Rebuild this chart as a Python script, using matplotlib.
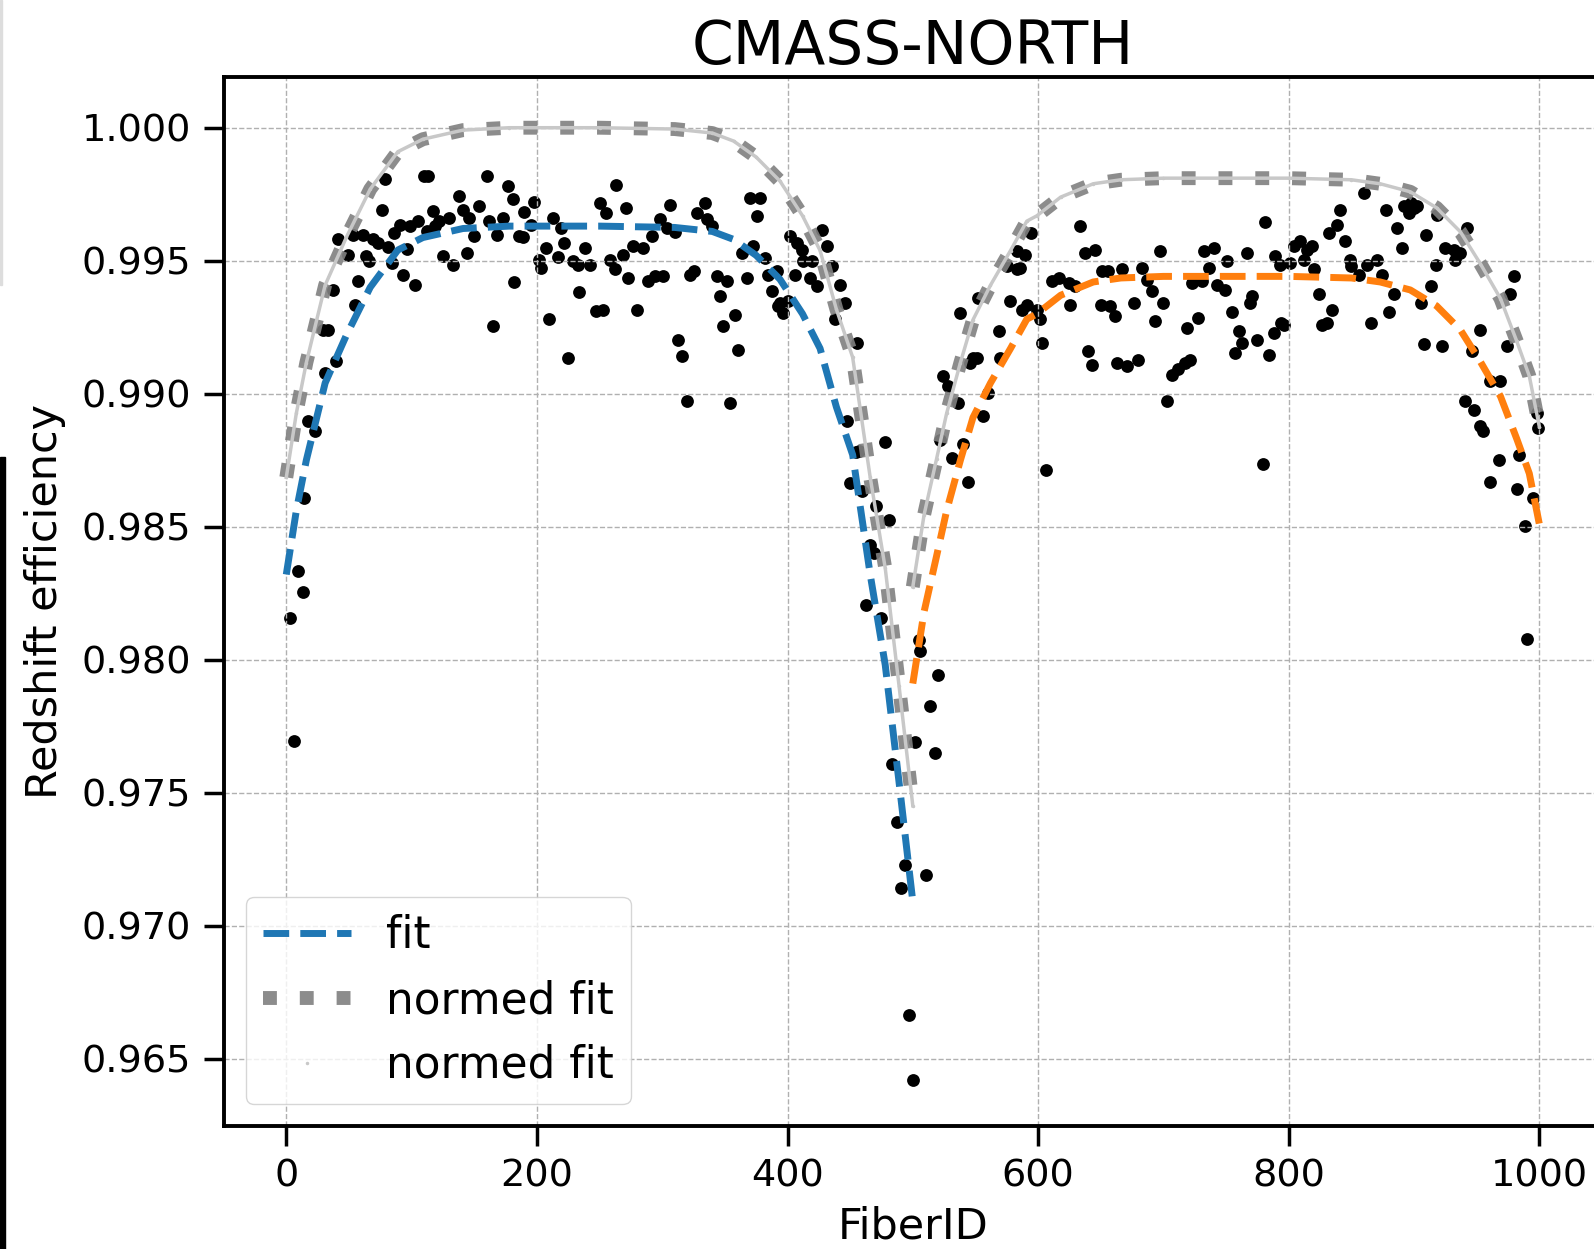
import numpy as np
import matplotlib
matplotlib.use("Agg")
import matplotlib.pyplot as plt
from matplotlib.patches import Rectangle
from matplotlib.ticker import FormatStrFormatter

# binned redshift efficiency per fiber
fiber_id = [
    3.3, 6.5, 9.7, 13, 14.2, 17, 22.6, 29, 31, 33, 37, 40, 41, 49, 53, 54.5, 57, 61, 64, 66,
    69, 73, 76, 78.5, 81, 84, 86, 91, 93, 96, 99, 102.5, 105, 110, 112, 113, 117, 119, 122, 125,
    130, 133, 138, 141, 144, 146, 150, 154, 160, 162, 165, 168, 173, 177, 181, 182, 186, 189, 190, 195.5,
    198, 202, 203.5, 207.6, 210, 212.8, 216.7, 219.6, 222, 225, 229, 233, 234, 238, 242.5, 247.5, 250, 253, 255.5, 258,
    262, 263.5, 269, 271.5, 273, 277, 279.5, 285, 288.8, 291.5, 294, 298, 300.8, 303.5, 306.6, 310, 312.8, 315.5, 319.5, 322,
    325, 327.5, 334, 335.5, 339.5, 343.5, 346, 348.7, 351.5, 354, 358, 360.7, 363.4, 367.4, 370, 372.6, 375.4, 378, 382, 384.7,
    387.4, 391.3, 392.7, 394, 396.7, 400.4, 402, 406, 407.5, 411.5, 412.6, 418, 419.3, 423.2, 427.3, 431.3, 435.3, 438, 442, 446,
    447.6, 450, 455, 455.6, 457, 459.5, 462.7, 465.7, 469, 470.4, 474.4, 478, 481, 483.5, 487.5, 490.5, 493.5, 496.6, 499.8, 502,
    505, 506, 510.5, 513.5, 518, 520, 521.8, 524.4, 528.4, 531, 536.4, 537.7, 540.4, 544, 545.8, 548.4, 551, 552.4, 556.4, 560.4,
    568.4, 569.7, 575, 577.7, 583, 583.5, 585.7, 587, 589.7, 591, 594, 599, 601.7, 603, 606, 611, 616.3, 624.3, 625.6, 629.7,
    633.6, 637.6, 640, 642.7, 645.6, 649.8, 651, 656, 657.7, 661.7, 663, 667, 671, 676.2, 680, 683, 687, 691, 693.6, 697.6,
    700, 703, 707, 712, 717.5, 718.7, 721.5, 722.8, 728, 730.8, 732, 736, 740, 742.7, 749.4, 750.6, 754.6, 757, 760, 762.5,
    766.7, 769.4, 770.7, 774.7, 779.5, 781.4, 784, 788, 789.4, 793.4, 794, 796, 801.3, 804, 809, 812, 814.7, 818.6, 820, 824,
    826.6, 830.6, 832, 834.7, 838.6, 841.3, 845.3, 849.3, 850, 856, 860, 862.6, 865.4, 870.6, 874.6, 877.4, 880, 884, 886.7, 890.7,
    892, 896, 897.3, 900, 902.7, 905.3, 908, 909.3, 913.3, 917.3, 918.6, 922.6, 925, 931.7, 933, 937, 941, 942.4, 946.4, 947.7,
    952.7, 953, 955.4, 960.7, 961, 968, 968.7, 974.4, 977, 979.7, 982, 984, 988.6, 990.5, 995, 998.4, 999,
]
efficiency = [
    0.98155, 0.97693, 0.98334, 0.98255, 0.98606, 0.98896, 0.98859, 0.99241, 0.99079, 0.99241, 0.99391, 0.99122, 0.99583, 0.99520, 0.99598, 0.99335, 0.99423, 0.99598, 0.99517, 0.99498,
    0.99580, 0.99568, 0.99690, 0.99807, 0.99550, 0.99493, 0.99606, 0.99636, 0.99448, 0.99545, 0.99629, 0.99410, 0.99648, 0.99817, 0.99611, 0.99817, 0.99686, 0.99629, 0.99648, 0.99517,
    0.99662, 0.99485, 0.99745, 0.99692, 0.99530, 0.99661, 0.99592, 0.99705, 0.99817, 0.99648, 0.99253, 0.99598, 0.99661, 0.99780, 0.99733, 0.99418, 0.99592, 0.99590, 0.99683, 0.99636,
    0.99720, 0.99504, 0.99474, 0.99549, 0.99281, 0.99662, 0.99515, 0.99624, 0.99568, 0.99135, 0.99498, 0.99482, 0.99381, 0.99548, 0.99485, 0.99310, 0.99717, 0.99316, 0.99680, 0.99504,
    0.99467, 0.99786, 0.99523, 0.99698, 0.99435, 0.99554, 0.99316, 0.99548, 0.99423, 0.99592, 0.99444, 0.99655, 0.99444, 0.99623, 0.99711, 0.99607, 0.99203, 0.99141, 0.98971, 0.99448,
    0.99460, 0.99680, 0.99717, 0.99655, 0.99629, 0.99441, 0.99366, 0.99253, 0.99423, 0.98965, 0.99297, 0.99166, 0.99529, 0.99435, 0.99736, 0.99554, 0.99667, 0.99736, 0.99510, 0.99448,
    0.99385, 0.99460, 0.99329, 0.99341, 0.99304, 0.99347, 0.99592, 0.99448, 0.99567, 0.99542, 0.99498, 0.99435, 0.99498, 0.99404, 0.99617, 0.99554, 0.99479, 0.99279, 0.99410, 0.99341,
    0.98896, 0.98665, 0.98780, 0.99191, 0.98783, 0.98634, 0.98205, 0.98431, 0.98400, 0.98579, 0.98158, 0.98817, 0.98525, 0.97607, 0.97389, 0.97141, 0.97228, 0.96665, 0.96420, 0.97692,
    0.98072, 0.98032, 0.97189, 0.97824, 0.97649, 0.97941, 0.98827, 0.99065, 0.99028, 0.98759, 0.98965, 0.99304, 0.98809, 0.98668, 0.99116, 0.99135, 0.99135, 0.99360, 0.98915, 0.99003,
    0.99235, 0.99135, 0.99479, 0.99347, 0.99467, 0.99535, 0.99473, 0.99316, 0.99523, 0.99335, 0.99604, 0.99316, 0.99279, 0.99191, 0.98712, 0.99423, 0.99435, 0.99417, 0.99335, 0.99404,
    0.99632, 0.99529, 0.99159, 0.99109, 0.99542, 0.99335, 0.99460, 0.99460, 0.99329, 0.99291, 0.99116, 0.99467, 0.99103, 0.99341, 0.99128, 0.99473, 0.99429, 0.99385, 0.99272, 0.99535,
    0.99341, 0.98971, 0.99072, 0.99091, 0.99116, 0.99247, 0.99128, 0.99417, 0.99285, 0.99423, 0.99535, 0.99473, 0.99548, 0.99410, 0.99391, 0.99498, 0.99306, 0.99153, 0.99235, 0.99191,
    0.99529, 0.99341, 0.99366, 0.99203, 0.98735, 0.99644, 0.99147, 0.99229, 0.99517, 0.99485, 0.99267, 0.99260, 0.99492, 0.99554, 0.99573, 0.99504, 0.99542, 0.99554, 0.99467, 0.99373,
    0.99260, 0.99266, 0.99604, 0.99316, 0.99636, 0.99692, 0.99573, 0.99504, 0.99479, 0.99448, 0.99755, 0.99485, 0.99266, 0.99504, 0.99448, 0.99692, 0.99306, 0.99376, 0.99623, 0.99548,
    0.99705, 0.99680, 0.99717, 0.99698, 0.99705, 0.99341, 0.99185, 0.99598, 0.99404, 0.99485, 0.99673, 0.99178, 0.99548, 0.99542, 0.99504, 0.99529, 0.98971, 0.99623, 0.99159, 0.98940,
    0.98877, 0.99241, 0.98859, 0.99047, 0.98668, 0.98751, 0.99047, 0.99178, 0.99373, 0.99441, 0.98642, 0.98771, 0.98501, 0.98077, 0.98606, 0.98928, 0.98871,
]

# fit, first spectrograph (fibers 0-500)
fit1_x = [0, 8, 16, 31, 48, 67, 89, 109, 141, 178, 250, 310, 340, 357, 375, 394, 412, 426, 439, 452, 466, 478, 489, 500]
fit1_y = [0.9832, 0.9856, 0.9875, 0.9904, 0.9922, 0.9940, 0.9954, 0.99587, 0.99621, 0.99630, 0.99630, 0.99625,
          0.9961, 0.9958, 0.9952, 0.9943, 0.9930, 0.9917, 0.9895, 0.9877, 0.9832, 0.9798, 0.9754, 0.9709]
# fit, second spectrograph (fibers 500-1000)
fit2_x = [500, 509, 519, 527, 538, 548, 562, 578, 591, 599, 618, 644, 666, 700, 800, 850, 873, 897, 918, 937, 953, 969, 982, 992, 1000]
fit2_y = [0.9791, 0.9818, 0.9839, 0.9856, 0.9875, 0.9891, 0.9904, 0.9917, 0.9928, 0.9930, 0.9937, 0.9942, 0.99435,
          0.99441, 0.99441, 0.99435, 0.9942, 0.9939, 0.9933, 0.9924, 0.9912, 0.9899, 0.9883, 0.9870, 0.9851]

norm = max(max(fit1_y), max(fit2_y))

fig = plt.figure(figsize=(15.94, 12.49), dpi=100)
ax = fig.add_axes([0.1403, 0.0982, 0.8647, 0.8400])

ax.scatter(fiber_id, efficiency, s=85, color="black", linewidths=0)

fits = [(fit1_x, fit1_y, "#1f77b4"), (fit2_x, fit2_y, "#ff7f0e")]
for i, (fx, fy, col) in enumerate(fits):
    normed = np.array(fy) / norm
    ax.plot(fx, fy, "--", color=col, lw=5, label="fit" if i == 0 else None)
    ax.plot(fx, normed, ":", color="gray", lw=10, alpha=0.9, label="normed fit" if i == 0 else None)
    ax.plot(fx, normed, "-", color="#c8c8c8", lw=2.5, marker=".", ms=3,
            label="normed fit" if i == 0 else None)

ax.set_xlim(-50, 1050)
ax.set_ylim(0.96245, 1.0019)
ax.set_xticks([0, 200, 400, 600, 800, 1000])
ax.set_yticks([0.965, 0.970, 0.975, 0.980, 0.985, 0.990, 0.995, 1.000])
ax.yaxis.set_major_formatter(FormatStrFormatter("%.3f"))

ax.grid(True, linestyle="--", color="#b0b0b0", lw=1)
ax.tick_params(direction="out", length=14.4, width=2.5, pad=9, labelsize=27.5)
for sp in ax.spines.values():
    sp.set_linewidth(2.8)

ax.set_title("CMASS-NORTH", fontsize=43, pad=9)
ax.set_xlabel("FiberID", fontsize=31, labelpad=8)
ax.set_ylabel("Redshift efficiency", fontsize=31, labelpad=11)

leg = ax.legend(loc="lower left", fontsize=31.5)
leg.get_lines()[2].set_linestyle("none")

# screenshot edges on the left
fig.patches.append(Rectangle((0, 0), 5 / 1594, (1249 - 457) / 1249, transform=fig.transFigure,
                             color="black", zorder=10))
fig.patches.append(Rectangle((0, (1249 - 285) / 1249), 1.5 / 1594, 285 / 1249, transform=fig.transFigure,
                             color="#dddddd", zorder=10))

fig.savefig("out.png", dpi=100)
